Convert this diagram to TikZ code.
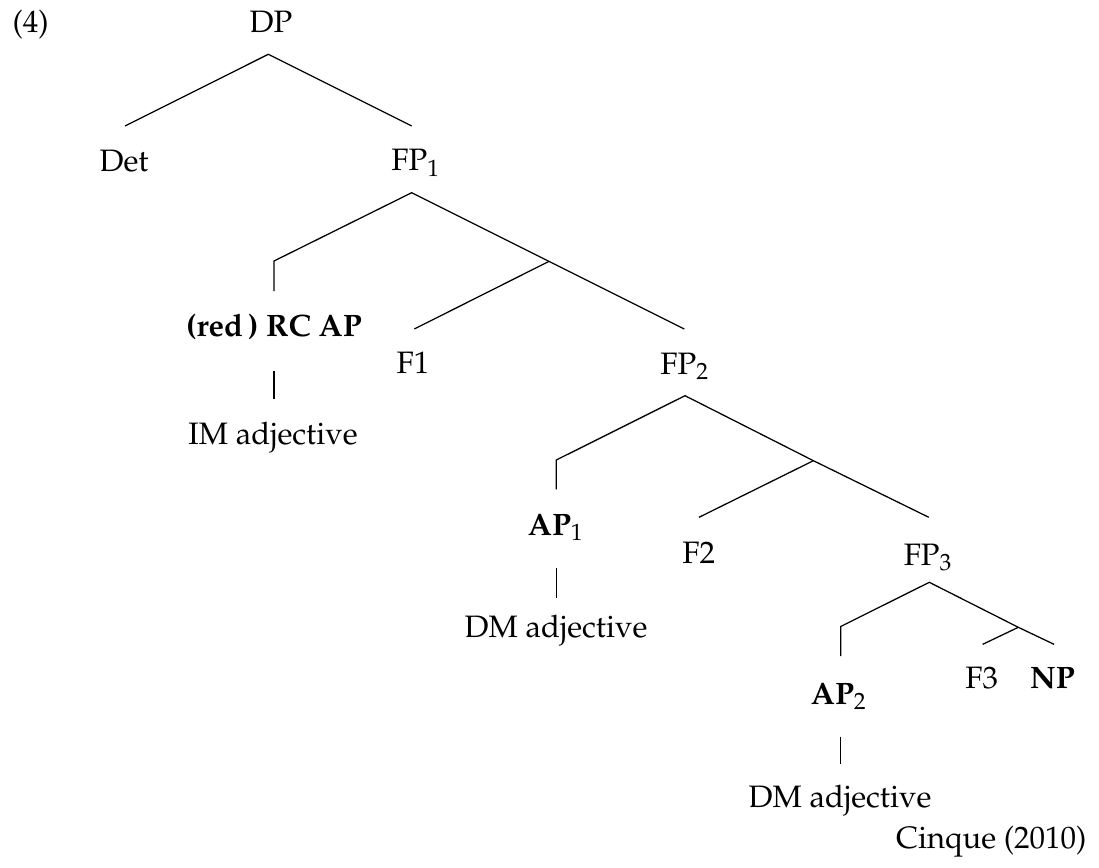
\documentclass[tikz,border=0pt]{standalone}
\usepackage[T1]{fontenc}
\usepackage{mathpazo}
\begin{document}
\begin{tikzpicture}[x=0.355pt,y=-0.355pt,
                    font=\fontsize{11}{13}\selectfont,
                    lbl/.style={anchor=base,inner sep=0pt},
                    branch/.style={line width=0.45pt}]
                        \useasboundingbox (0,0) rectangle (1099,867);
                        \node[lbl,anchor=base west] (num) at (12,33) {(4)};
                        \node[lbl] (dp) at (271,33) {DP};
                        \node[lbl] (det) at (124,171.7) {Det};
                        \node[lbl] (fp1) at (416,171) {FP$_1$};
                        \node[lbl] (rcap) at (274,336) {\textbf{(red\,) RC AP}};
                        \node[lbl] (imadj) at (273,444) {IM adjective};
                        \node[lbl] (f1) at (413,373) {F1};
                        \node[lbl] (fp2) at (685,374) {FP$_2$};
                        \node[lbl] (ap1) at (556,535) {\textbf{AP}$_1$};
                        \node[lbl] (dmadj1) at (556,637) {DM adjective};
                        \node[lbl] (f2) at (698.7,563.3) {F2};
                        \node[lbl] (fp3) at (928.3,565) {FP$_3$};
                        \node[lbl] (ap2) at (839,704.5) {\textbf{AP}$_2$};
                        \node[lbl] (dmadj2) at (840,807) {DM adjective};
                        \node[lbl] (f3) at (981.7,688.3) {F3};
                        \node[lbl] (np) at (1052.5,688.3) {\textbf{NP}};
                        \node[lbl,anchor=base east] (cite) at (1087,848) {Cinque (2010)};
                        \coordinate (dp-b) at (268.3,54.3);
                        \coordinate (det-t) at (125,126);
                        \coordinate (fp1-t) at (411.7,126);
                        \coordinate (fp1-b) at (411.7,192.7);
                        \coordinate (c1) at (274,261);
                        \coordinate (j1) at (549,261.35);
                        \coordinate (rcap-t) at (274,291);
                        \coordinate (f1-t) at (414.3,329);
                        \coordinate (fp2-t) at (684.3,329);
                        \coordinate (rcap-b) at (274,371);
                        \coordinate (imadj-t) at (274,399);
                        \coordinate (fp2-b) at (685,395.7);
                        \coordinate (c2) at (556.3,460);
                        \coordinate (j2) at (813.4,460.7);
                        \coordinate (ap1-t) at (556.3,489.3);
                        \coordinate (f2-t) at (699,517.3);
                        \coordinate (fp3-t) at (928.8,517.3);
                        \coordinate (ap1-b) at (556.3,568.3);
                        \coordinate (dmadj1-t) at (556.3,598.3);
                        \coordinate (fp3-b) at (929.3,582.3);
                        \coordinate (c3) at (840.7,626.5);
                        \coordinate (j3) at (1018.3,627.3);
                        \coordinate (ap2-t) at (840.7,656);
                        \coordinate (f3-t) at (982.7,644.3);
                        \coordinate (np-t) at (1054,644.3);
                        \coordinate (ap2-b) at (840.7,736.7);
                        \coordinate (dmadj2-t) at (840.7,764.3);
                        \draw[branch] (det-t) -- (dp-b) -- (fp1-t);
                        \draw[branch] (rcap-t) -- (c1) -- (fp1-b) -- (j1) -- (fp2-t);
                        \draw[branch] (j1) -- (f1-t);
                        \draw[branch] (rcap-b) -- (imadj-t);
                        \draw[branch] (ap1-t) -- (c2) -- (fp2-b) -- (j2) -- (fp3-t);
                        \draw[branch] (j2) -- (f2-t);
                        \draw[branch] (ap1-b) -- (dmadj1-t);
                        \draw[branch] (ap2-t) -- (c3) -- (fp3-b) -- (j3) -- (np-t);
                        \draw[branch] (j3) -- (f3-t);
                        \draw[branch] (ap2-b) -- (dmadj2-t);
                    \end{tikzpicture}
\end{document}
